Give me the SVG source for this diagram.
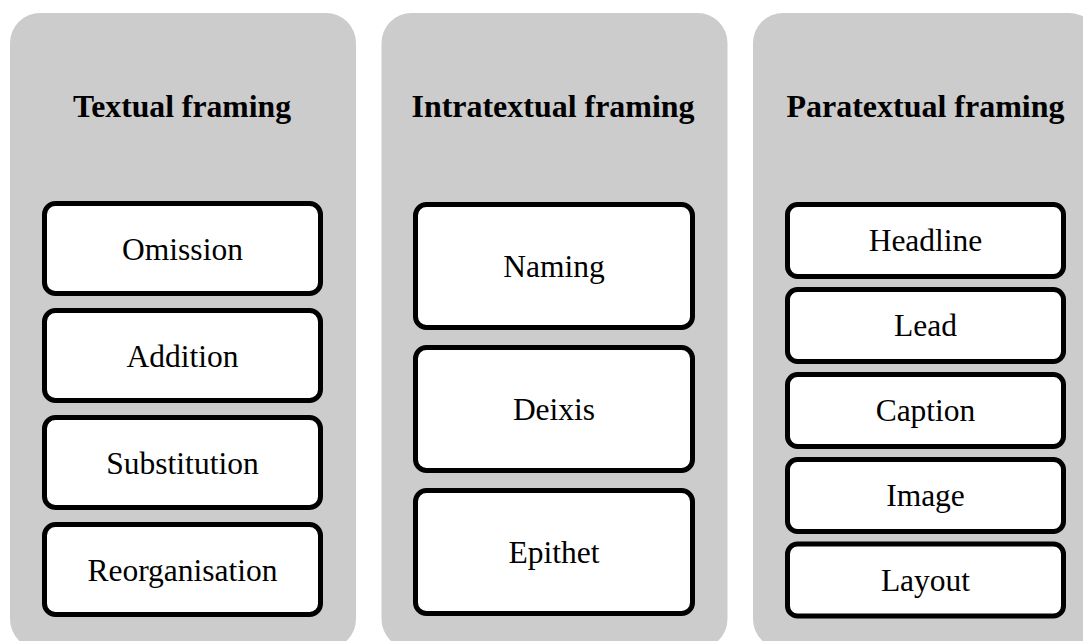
<svg xmlns="http://www.w3.org/2000/svg" width="1083" height="641" viewBox="0 0 1083 641">
  <style>
    .panel { fill: #cccccc; }
    .box { fill: #ffffff; stroke: #000000; stroke-width: 5; }
    .title { font-family: "Liberation Serif", "Times New Roman", serif; font-weight: bold; font-size: 31px; fill: #000; text-anchor: middle; }
    .label { font-family: "Liberation Serif", "Times New Roman", serif; font-size: 31.5px; fill: #000; text-anchor: middle; }
  </style>
  <rect x="0" y="0" width="1083" height="641" fill="#ffffff"/>

  <g id="panel-textual">
    <rect class="panel" x="10" y="13" width="346" height="636" rx="30" ry="30"/>
    <text class="title" x="182" y="117.3" textLength="218" lengthAdjust="spacingAndGlyphs">Textual framing</text>
  </g>
  <g id="panel-intratextual">
    <rect class="panel" x="381.5" y="13" width="346" height="636" rx="30" ry="30"/>
    <text class="title" x="553" y="117.3" textLength="283" lengthAdjust="spacingAndGlyphs">Intratextual framing</text>
  </g>
  <g id="panel-paratextual">
    <rect class="panel" x="753" y="13" width="346" height="636" rx="30" ry="30"/>
    <text class="title" x="925.5" y="117.3" textLength="278" lengthAdjust="spacingAndGlyphs">Paratextual framing</text>
  </g>

  <g id="node-omission">
    <rect class="box" x="44.5" y="203.5" width="276" height="90" rx="11"/>
    <text class="label" x="182.5" y="259.5">Omission</text>
  </g>
  <g id="node-addition">
    <rect class="box" x="44.5" y="310.5" width="276" height="90" rx="11"/>
    <text class="label" x="182.5" y="366.5">Addition</text>
  </g>
  <g id="node-substitution">
    <rect class="box" x="44.5" y="417.5" width="276" height="90" rx="11"/>
    <text class="label" x="182.5" y="473.5">Substitution</text>
  </g>
  <g id="node-reorganisation">
    <rect class="box" x="44.5" y="524.5" width="276" height="90" rx="11"/>
    <text class="label" x="182.5" y="580.5">Reorganisation</text>
  </g>

  <g id="node-naming">
    <rect class="box" x="415.5" y="204.5" width="277" height="123" rx="11"/>
    <text class="label" x="554" y="277">Naming</text>
  </g>
  <g id="node-deixis">
    <rect class="box" x="415.5" y="347.5" width="277" height="123" rx="11"/>
    <text class="label" x="554" y="420">Deixis</text>
  </g>
  <g id="node-epithet">
    <rect class="box" x="415.5" y="490.5" width="277" height="123" rx="11"/>
    <text class="label" x="554" y="563">Epithet</text>
  </g>

  <g id="node-headline">
    <rect class="box" x="787.5" y="204.5" width="276" height="72" rx="10"/>
    <text class="label" x="925.5" y="251">Headline</text>
  </g>
  <g id="node-lead">
    <rect class="box" x="787.5" y="289.5" width="276" height="72" rx="10"/>
    <text class="label" x="925.5" y="336">Lead</text>
  </g>
  <g id="node-caption">
    <rect class="box" x="787.5" y="374.5" width="276" height="72" rx="10"/>
    <text class="label" x="925.5" y="421">Caption</text>
  </g>
  <g id="node-image">
    <rect class="box" x="787.5" y="459.5" width="276" height="72" rx="10"/>
    <text class="label" x="925.5" y="506">Image</text>
  </g>
  <g id="node-layout">
    <rect class="box" x="787.5" y="544" width="276" height="72" rx="10"/>
    <text class="label" x="925.5" y="590.5">Layout</text>
  </g>

  <g id="connectors"></g>
</svg>
